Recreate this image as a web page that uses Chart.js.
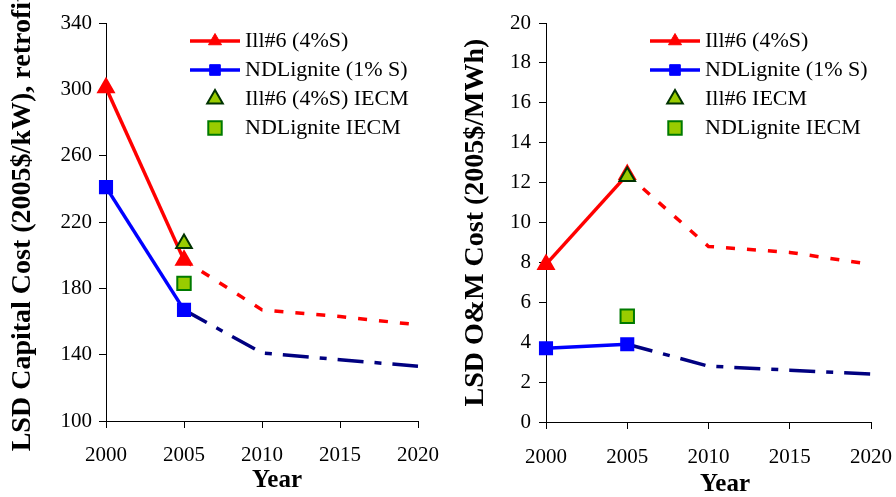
<!DOCTYPE html>
<html>
<head>
<meta charset="utf-8">
<script src="https://cdn.jsdelivr.net/npm/chart.js@4"></script>
<style>
  body { margin: 0; background: #fff; }
  #wrap { position: relative; width: 896px; height: 497px; }
  canvas { position: absolute; top: 0; }
  #capChart { left: 0; }
  #omChart { left: 450px; }
</style>
</head>
<body>
<div id="wrap">
  <canvas id="capChart" width="450" height="497"></canvas>
  <canvas id="omChart" width="446" height="497"></canvas>
</div>
<script>
// values
const years = [2000, 2005, 2010, 2015, 2020];
const ill6Capital = [301, 197, 167, 163, 158];
const ndlCapital = [241, 167, 141, 137, 133];
const ill6OM = [7.9, 12.4, 8.8, 8.5, 7.9];
const ndlOM = [3.7, 3.9, 2.8, 2.6, 2.4];

const iecmYear = 2005;
const ill6CapitalIECM = 207;
const ndlCapitalIECM = 183;
const ill6OMIECM = 12.3;
const ndlOMIECM = 5.3;

const yearTicks = [2000, 2005, 2010, 2015, 2020];
const capitalTicks = [100, 140, 180, 220, 260, 300, 340];
const omTicks = [0, 2, 4, 6, 8, 10, 12, 14, 16, 18, 20];

const SERIF = '"Liberation Serif", "Times New Roman", serif';
Chart.defaults.font.family = SERIF;
Chart.defaults.color = '#000';

// solid line up to 2005, dashed projection after that
function seriesDataset(label, values, color, futureColor, dash, style) {
  return {
    label,
    data: years.map((x, i) => ({ x, y: values[i] })),
    borderColor: color,
    backgroundColor: color,
    borderWidth: 3.5,
    pointStyle: style,
    pointRadius: ctx => (ctx.raw && ctx.raw.x <= 2005 ? 7.5 : 0),
    pointHoverRadius: 0,
    legendRadius: 7.5,
    segment: {
      borderColor: ctx => (ctx.p0.parsed.x >= 2005 ? futureColor : color),
      borderDash: ctx => (ctx.p0.parsed.x >= 2005 ? dash : [])
    },
    clip: false,
    order: 1
  };
}

function iecmDataset(label, value, style, radius, border) {
  return {
    label,
    data: [{ x: iecmYear, y: value }],
    showLine: false,
    pointStyle: style,
    pointRadius: radius,
    pointHoverRadius: radius,
    legendRadius: radius,
    backgroundColor: '#99CC00',
    borderColor: border,
    borderWidth: 2,
    pointBorderWidth: 2,
    clip: false,
    order: 0
  };
}

// legend inside the plot + the "Year" title
const legendAndTitle = {
  id: 'legendAndTitle',
  afterDatasetsDraw(chart, args, opts) {
    const ctx = chart.ctx;
    ctx.save();
    ctx.font = '22px ' + SERIF;
    ctx.textBaseline = 'middle';
    chart.data.datasets.forEach((ds, i) => {
      const x = opts.left;
      const y = opts.top + i * 29;
      if (ds.showLine !== false) {
        ctx.strokeStyle = ds.borderColor;
        ctx.lineWidth = ds.borderWidth;
        ctx.beginPath();
        ctx.moveTo(x, y);
        ctx.lineTo(x + 50, y);
        ctx.stroke();
      }
      const bw = ds.showLine === false ? 2 : 1;
      ctx.fillStyle = ds.backgroundColor;
      ctx.strokeStyle = ds.borderColor;
      ctx.lineWidth = bw;
      Chart.helpers.drawPoint(ctx, { pointStyle: ds.pointStyle, radius: ds.legendRadius, borderWidth: bw, rotation: 0 }, x + 25, y);
      ctx.fillStyle = '#000';
      ctx.fillText(ds.label, x + 55, y);
    });
    ctx.font = 'bold 25px ' + SERIF;
    ctx.textAlign = 'center';
    ctx.fillText('Year', opts.titleX, opts.titleY);
    ctx.restore();
  }
};

const tickGrid = { drawOnChartArea: false, drawTicks: true, tickLength: 7, color: '#000', lineWidth: 1 };
const axisBorder = { display: true, color: '#000', width: 1 };

function makeChart(id, datasets, yTicks, yTitle, g) {
  return new Chart(document.getElementById(id), {
    type: 'line',
    data: { datasets },
    options: {
      responsive: false,
      animation: false,
      layout: { padding: { top: 23, right: g.padRight, bottom: 0, left: 0 } },
      plugins: {
        legend: { display: false },
        tooltip: { enabled: false },
        legendAndTitle: { left: g.legendLeft, top: 41, titleX: g.titleX, titleY: g.titleY }
      },
      scales: {
        x: {
          type: 'linear',
          min: yearTicks[0],
          max: yearTicks[yearTicks.length - 1],
          afterBuildTicks: s => { s.ticks = yearTicks.map(v => ({ value: v })); },
          afterFit: s => {
            s.height = g.xHeight;
            // the layout padding already leaves room for the end labels
            s.paddingLeft = 0;
            s.paddingRight = 0;
          },
          ticks: { font: { size: 21 }, padding: g.xPad, maxRotation: 0, autoSkip: false, callback: v => String(v) },
          grid: tickGrid,
          border: axisBorder
        },
        y: {
          min: yTicks[0],
          max: yTicks[yTicks.length - 1],
          afterBuildTicks: s => { s.ticks = yTicks.map(v => ({ value: v })); },
          afterFit: s => { s.width = g.yWidth; },
          ticks: { font: { size: 21 }, padding: g.yPad },
          grid: tickGrid,
          border: axisBorder,
          title: {
            display: true,
            text: yTitle,
            font: { size: 28, weight: 'bold' },
            padding: { top: g.titlePad, bottom: 0 }
          }
        }
      }
    },
    plugins: [legendAndTitle]
  });
}

makeChart('capChart', [
  seriesDataset('Ill#6 (4%S)', ill6Capital, '#FF0000', '#FF0000', [9, 12], 'triangle'),
  seriesDataset('NDLignite (1% S)', ndlCapital, '#0000FF', '#000080', [26, 11, 7, 11], 'rect'),
  iecmDataset('Ill#6 (4%S) IECM', ill6CapitalIECM, 'triangle', 9, '#003300'),
  iecmDataset('NDLignite IECM', ndlCapitalIECM, 'rect', 9.5, '#007A00')
], capitalTicks, 'LSD Capital Cost (2005$/kW), retrofit',
  { padRight: 32, xHeight: 76, yWidth: 106, xPad: 15, yPad: 7, titlePad: 6, legendLeft: 190, titleX: 277, titleY: 481 });

makeChart('omChart', [
  seriesDataset('Ill#6 (4%S)', ill6OM, '#FF0000', '#FF0000', [9, 12], 'triangle'),
  seriesDataset('NDLignite (1% S)', ndlOM, '#0000FF', '#000080', [26, 11, 7, 11], 'rect'),
  iecmDataset('Ill#6 IECM', ill6OMIECM, 'triangle', 9, '#003300'),
  iecmDataset('NDLignite IECM', ndlOMIECM, 'rect', 9.5, '#007A00')
], omTicks, 'LSD O&M Cost (2005$/MWh)',
  { padRight: 25, xHeight: 75, yWidth: 96, xPad: 16, yPad: 8, titlePad: 9, legendLeft: 200, titleX: 275, titleY: 485 });
</script>
</body>
</html>
